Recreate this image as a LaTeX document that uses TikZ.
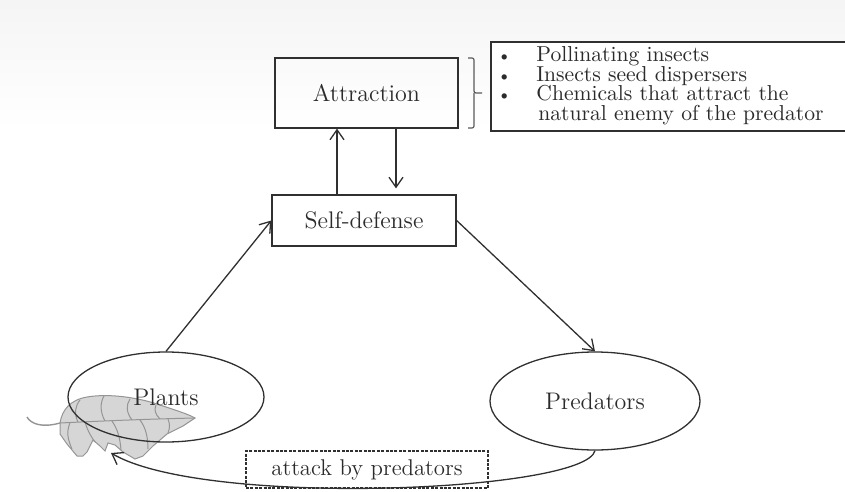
\documentclass[tikz,border=0pt]{standalone}
\usetikzlibrary{arrows.meta,shapes.geometric}
\definecolor{ink}{HTML}{303030}
\definecolor{leaffill}{HTML}{D6D6D6}
\definecolor{leafvein}{HTML}{959595}
\begin{document}
\begin{tikzpicture}[x=0.5pt,y=-0.5pt,
  every node/.style={text=ink!90!black},
  boxnode/.style={draw=ink, line width=0.65pt, rectangle, inner sep=0pt,
                  font=\fontsize{12}{14}\selectfont},
  ellnode/.style={draw=ink, line width=0.65pt, ellipse, inner sep=0pt,
                  font=\fontsize{12}{14}\selectfont},
  dashbox/.style={boxnode, dash pattern=on 1.5pt off 0.7pt, font=\fontsize{11.4}{14}\selectfont},
  listitem/.style={anchor=base west, inner sep=0pt, font=\fontsize{10.8}{13}\selectfont},
  conn/.style={draw=ink, line width=0.65pt, -{Straight Barb[length=5pt,width=7pt]}}]
\useasboundingbox (0,0) rectangle (845,492);

% faint haze across the top of the sheet
\shade[top color=black!4, bottom color=white] (0,0) rectangle (845,130);

% list of attractants, framed on three sides
\fill[white] (491,42) rectangle (845,131);
\draw[ink, line width=0.65pt] (845,42) -| (491,131) -- (845,131);
\node[listitem] (item1) at (536,62)   {\llap{\small\textbullet\hspace{12.5pt}}Pollinating insects};
\node[listitem] (item2) at (536,81.5) {\llap{\small\textbullet\hspace{12.5pt}}Insects seed dispersers};
\node[listitem] (item3) at (536,101)  {\llap{\small\textbullet\hspace{12.5pt}}Chemicals that attract the};
\node[listitem] (item4) at (538,120.5){natural enemy of the predator};

% brace joining the list to the attraction box
\draw[ink!80, line width=0.6pt, rounded corners=1pt] (468,58) -| (474,93) -- (482,93);
\draw[ink!80, line width=0.6pt, rounded corners=1pt] (468,128) -| (474,93);

% leaf behind the plants ellipse
\begin{scope}[line width=0.5pt]
  \draw[leafvein, line width=0.7pt] (27,417) .. controls (31,424) and (42,428) .. (60,423);
  \filldraw[fill=leaffill, draw=leafvein]
    (60,423) .. controls (62,410) and (70,400) .. (87,397)
             .. controls (110,393) and (140,398) .. (160,405)
             .. controls (175,410) and (188,414) .. (195,418)
             -- (183,426) -- (167,434) -- (153,446) -- (143,456) -- (135,459)
             -- (123,452) -- (115,445) -- (108,443) -- (105,451) -- (100,446)
             -- (93,440) -- (87,452) -- (83,456) -- (77,456) -- (67,444)
             -- (60,434) -- cycle;
  % midrib and side veins
  \draw[leafvein] (60,423) .. controls (100,421) and (150,419) .. (195,418);
  \draw[leafvein] (78,422) .. controls (74,414) and (75,406) .. (80,400);
  \draw[leafvein] (105,421) .. controls (100,412) and (100,403) .. (104,396);
  \draw[leafvein] (132,420) .. controls (126,412) and (126,405) .. (130,399);
  \draw[leafvein] (160,419) .. controls (155,414) and (154,410) .. (156,405);
  \draw[leafvein] (85,422) .. controls (88,432) and (92,438) .. (95,442);
  \draw[leafvein] (112,421) .. controls (118,430) and (120,438) .. (121,450);
  \draw[leafvein] (140,420) .. controls (146,428) and (148,438) .. (148,449);
  \draw[leafvein] (168,419) .. controls (170,424) and (170,428) .. (168,433);
  \draw[leafvein] (70,423) .. controls (66,432) and (68,440) .. (72,449);
\end{scope}

% main nodes
\node[boxnode, minimum width=91.5pt, minimum height=35pt] (attr) at (366.5,93) {Attraction};
\node[boxnode, minimum width=92pt, minimum height=25.5pt] (self) at (364,220.5) {Self-defense};
\node[ellnode, minimum width=98pt, minimum height=45pt] (plants) at (166,397) {Plants};
\node[ellnode, minimum width=105pt, minimum height=49pt] (pred) at (595,401) {Predators};
\node[dashbox, minimum width=121pt, minimum height=18.5pt] (attack) at (367,469.5) {attack by predators};

% connectors
\coordinate (upx) at (337,0);
\coordinate (dnx) at (396,0);
\coordinate (bite) at (111,453);
\draw[conn] (self.north -| upx) -- (attr.south -| upx);
\draw[conn, shorten >=3pt] (attr.south -| dnx) -- (self.north -| dnx);
\draw[conn] (plants.north) -- (self.west);
\draw[conn] (self.east) -- (pred.north);
\draw[conn] (pred.south) .. controls (585,492) and (205,508) .. (bite);
\end{tikzpicture}
\end{document}
